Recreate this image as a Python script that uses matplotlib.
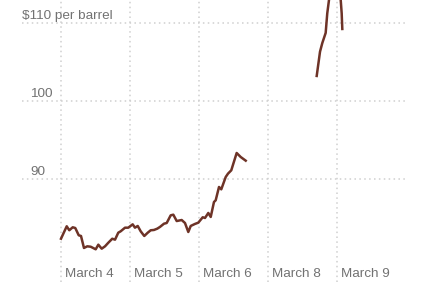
import matplotlib
matplotlib.use("Agg")
from matplotlib import pyplot as plt
from matplotlib import transforms

# x is measured in trading-day slots: 0 = March 4, 1 = March 5, 2 = March 6,
# 3 = March 8, 4 = March 9
day_labels = ["March 4", "March 5", "March 6", "March 8", "March 9"]
day_ticks = [0, 1, 2, 3, 4]

y_ticks = [90, 100, 110]
y_labels = ["90", "100", "$110 per barrel"]

# first stretch: March 4 to March 6
x_week = [0.000, 0.083, 0.120, 0.170, 0.207, 0.257, 0.290, 0.333, 0.381, 0.430,
          0.503, 0.541, 0.590, 0.638, 0.686, 0.743, 0.783, 0.830, 0.865, 0.928,
          0.975, 1.039, 1.072, 1.112, 1.155, 1.207, 1.257, 1.300, 1.348, 1.396,
          1.435, 1.493, 1.532, 1.590, 1.628, 1.677, 1.749, 1.797, 1.845, 1.880,
          1.942, 1.990, 2.054, 2.087, 2.135, 2.170, 2.217, 2.242, 2.290, 2.323,
          2.387, 2.420, 2.468, 2.546, 2.604, 2.677]
price_week = [82.41, 84.00, 83.49, 83.87, 83.78, 82.85, 82.76, 81.23, 81.44, 81.39,
              81.06, 81.65, 81.14, 81.44, 81.90, 82.41, 82.29, 83.18, 83.36, 83.82,
              83.82, 84.25, 83.82, 84.04, 83.36, 82.76, 83.18, 83.49, 83.53, 83.70,
              83.92, 84.33, 84.42, 85.40, 85.48, 84.67, 84.80, 84.42, 83.27, 84.04,
              84.30, 84.46, 85.15, 85.06, 85.70, 85.19, 87.10, 87.32, 89.02, 88.72,
              90.29, 90.72, 91.15, 93.36, 92.85, 92.38]

# second stretch: Sunday evening into March 9 (peak runs off the top)
x_weekend = [3.706, 3.754, 3.787, 3.836, 3.859, 3.884, 3.950, 4.020, 4.054, 4.068, 4.077]
price_weekend = [103.2, 106.3, 107.4, 108.7, 111.2, 112.9, 118.5, 117.0, 112.9, 111.2, 109.2]

line_color = "#6e3327"
grid_color = "#cfcfcf"
text_color = "#727272"

plt.rcParams["font.family"] = ["Liberation Sans", "DejaVu Sans"]

fig = plt.figure(figsize=(4.28, 2.85), dpi=100)
ax = fig.add_axes([0, 0, 1, 1])
ax.set_xlim(-0.884, 5.319)
ax.set_ylim(76.5, 112.9)
ax.axis("off")

# dotted grid
for v in y_ticks:
	ax.axhline(v, xmin=22 / 428, xmax=407 / 428, color=grid_color,
	           linestyle=(0, (1, 2.2)), linewidth=1.1, zorder=1)
for d in day_ticks:
	ax.axvline(d, ymin=0.01, ymax=1, color=grid_color,
	           linestyle=(0, (1, 2.2)), linewidth=1.1, zorder=1)

ax.plot(x_week, price_week, color=line_color, linewidth=1.8,
        solid_joinstyle="round", zorder=3)
ax.plot(x_weekend, price_weekend, color=line_color, linewidth=1.8,
        solid_joinstyle="round", zorder=3)

# y labels sit above their gridline, numbers left-aligned
xpix = transforms.blended_transform_factory(fig.dpi_scale_trans, ax.transData)
for v, lab in zip(y_ticks, y_labels):
	x0 = 30 if not lab.startswith("$") else 22
	ax.annotate(lab, xy=(x0 / 100, v), xycoords=xpix,
	            xytext=(0, 3), textcoords="offset points",
	            ha="left", va="baseline", fontsize=9.7, color=text_color)

# x labels just right of each gridline, near the bottom
xtrans = transforms.blended_transform_factory(ax.transData, ax.transAxes)
for d, lab in zip(day_ticks, day_labels):
	ax.annotate(lab, xy=(d, 8 / 285), xycoords=xtrans,
	            xytext=(3, 0), textcoords="offset points",
	            ha="left", va="baseline", fontsize=9.7, color=text_color)

fig.savefig("out.png", dpi=100, facecolor="white")
